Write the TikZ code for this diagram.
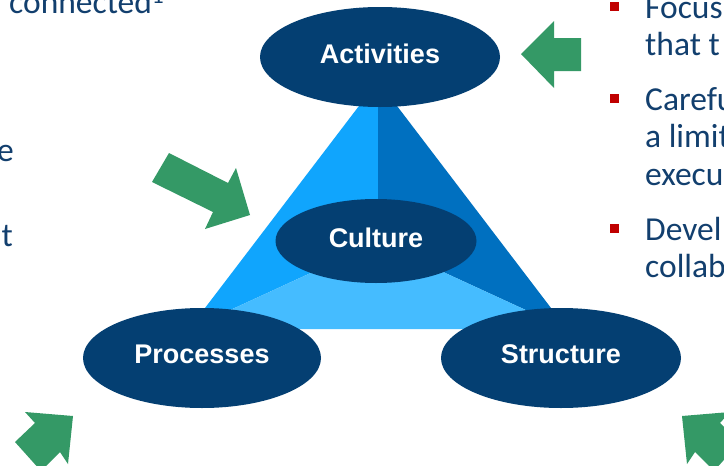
\documentclass[tikz,border=0pt]{standalone}
\usepackage{fontspec}
\setmainfont{Carlito}
\newfontfamily\labfont{Liberation Sans}
\usetikzlibrary{shapes.geometric}
\definecolor{navy}{HTML}{043F72}
\definecolor{txtblue}{HTML}{123F6E}
\definecolor{faceL}{HTML}{10A5FD}
\definecolor{faceR}{HTML}{0070C0}
\definecolor{faceB}{HTML}{45BCFF}
\definecolor{arrowgreen}{HTML}{349966}
\definecolor{bulletred}{HTML}{C00000}
\tikzset{
  oval/.style={ellipse, fill=navy, text=white, inner sep=0pt,
    font=\labfont\bfseries\fontsize{27}{32}\selectfont, text depth=7pt},
  bodytext/.style={text=txtblue, font=\fontsize{33.5}{37.5}\selectfont,
    inner sep=0pt, anchor=base west},
  bulletsq/.style={rectangle, fill=bulletred, minimum size=9pt, inner sep=0pt},
  greenarrow/.style={fill=arrowgreen}
}
\begin{document}
\begin{tikzpicture}[x=1pt,y=-1pt]
\useasboundingbox (0,0) rectangle (724,466);
\clip (0,0) rectangle (724,466);
\fill[white] (0,0) rectangle (724,466);

% triangle
\coordinate (A) at (378,81);
\coordinate (BL) at (189,329);
\coordinate (BR) at (567,329);
\coordinate (C) at (378,242);
\fill[faceL] (A) -- (C) -- (BL) -- cycle;
\fill[faceR] (A) -- (BR) -- (C) -- cycle;
\fill[faceB] (BL) -- (C) -- (BR) -- cycle;

% ellipses
\node[oval, minimum width=240pt, minimum height=100pt] (act) at (380,57) {Activities};
\node[oval, minimum width=201pt, minimum height=84pt] (cul) at (376,241) {Culture};
\node[oval, minimum width=238pt, minimum height=100pt] (pro) at (202,358) {Processes};
\node[oval, minimum width=240pt, minimum height=100pt] (str) at (561,358) {Structure};

% green arrows
\fill[greenarrow] (521,54) -- (554,21) -- (554,38) -- (581,38) -- (581,71) -- (554,71) -- (554,88) -- cycle;
\fill[greenarrow] (250,215) -- (205,229) -- (213,212) -- (152,182) -- (169,153) -- (228,183) -- (236,168) -- cycle;
\fill[greenarrow] (73,416) -- (25,412) -- (35,423) -- (15,442) -- (41,471) -- (60,452) -- (68,464) -- cycle;
\fill[greenarrow] (682,416) -- (730,412) -- (720,423) -- (740,442) -- (714,471) -- (695,452) -- (687,464) -- cycle;

% left text
\node[bodytext] (l1) at (9,13) {connected\textsuperscript{1}};
\node[bodytext, anchor=base east] (l2) at (14,161) {e};
\node[bodytext, anchor=base east] (l3) at (13,246) {t};

% right bullets and text
\node[bulletsq] (b1) at (614.5,6.5) {};
\node[bulletsq] (b2) at (614.5,98) {};
\node[bulletsq] (b3) at (614.5,228) {};
\node[bodytext] (r1) at (645,18) {Focus};
\node[bodytext] (r2) at (645,55) {that t};
\node[bodytext] (r3) at (645,110) {Carefu};
\node[bodytext] (r4) at (645,147) {a limit};
\node[bodytext] (r5) at (645,185) {execu};
\node[bodytext] (r6) at (645,240) {Devel};
\node[bodytext] (r7) at (645,277) {collab};
\end{tikzpicture}
\end{document}
